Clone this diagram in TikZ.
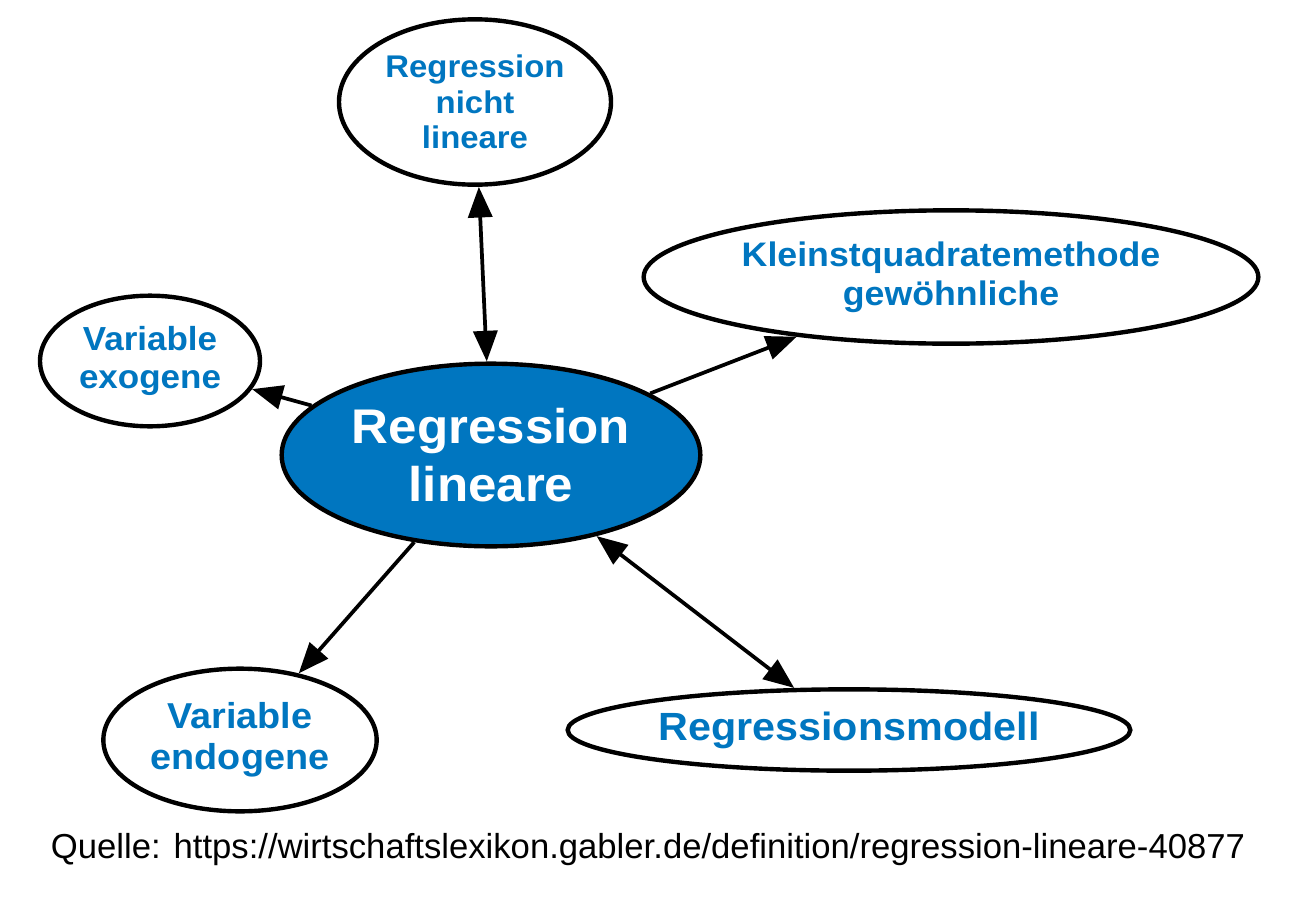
\documentclass[tikz,border=0pt]{standalone}
\usepackage{fontspec}
\setmainfont{Liberation Sans}
\newfontfamily\nodefont[FakeStretch=1.05]{Liberation Sans}
\usetikzlibrary{arrows.meta,shapes.geometric}
\definecolor{gblue}{RGB}{0,118,192}
\tikzset{
  bubble/.style={ellipse, draw=black, line width=3.3pt, fill=white, inner sep=0pt,
    align=center, text=gblue, font=\nodefont\bfseries},
  link/.style={line width=2.8pt, -{Triangle[length=23pt,width=18pt]}},
  dlink/.style={line width=2.8pt, {Triangle[length=23pt,width=18pt]}-{Triangle[length=23pt,width=18pt]}}
}
\begin{document}
\begin{tikzpicture}[x=0.75pt,y=-0.75pt]
\useasboundingbox[fill=white] (0,0) rectangle (1300,907);
\node[bubble, fill=gblue, text=white, minimum width=314pt, minimum height=137pt,
  font=\nodefont\bfseries\fontsize{36.5}{43}\selectfont] (c) at (491,455) {Regression\\lineare};
\node[bubble, minimum width=204pt, minimum height=124pt,
  font=\nodefont\bfseries\fontsize{23.5}{26.6}\selectfont] (top) at (475,102) {Regression\\nicht\\lineare};
\node[bubble, minimum width=461pt, minimum height=100pt,
  font=\nodefont\bfseries\fontsize{25.5}{29}\selectfont] (kq) at (951,277) {Kleinstquadratemethode\\gewöhnliche};
\node[bubble, minimum width=165pt, minimum height=98pt,
  font=\nodefont\bfseries\fontsize{25}{28}\selectfont] (exo) at (150,361) {Variable\\exogene};
\node[bubble, minimum width=205pt, minimum height=107pt,
  font=\nodefont\bfseries\fontsize{27}{31}\selectfont] (endo) at (240,740) {Variable\\endogene};
\node[bubble, minimum width=422pt, minimum height=61pt,
  font=\nodefont\bfseries\fontsize{29.5}{34}\selectfont] (rm) at (849,730) {Regressionsmodell};
\draw[dlink] (c) -- (top);
\draw[link] (c) -- (kq);
\draw[link] (c) -- (exo);
\draw[link] (c) -- (endo);
\draw[dlink] (c) -- (rm);
\node[font=\fontsize{26}{30}\selectfont, inner sep=0pt] (src) at (648,850) {Quelle: https://wirtschaftslexikon.gabler.de/definition/regression-lineare-40877};
\end{tikzpicture}
\end{document}
